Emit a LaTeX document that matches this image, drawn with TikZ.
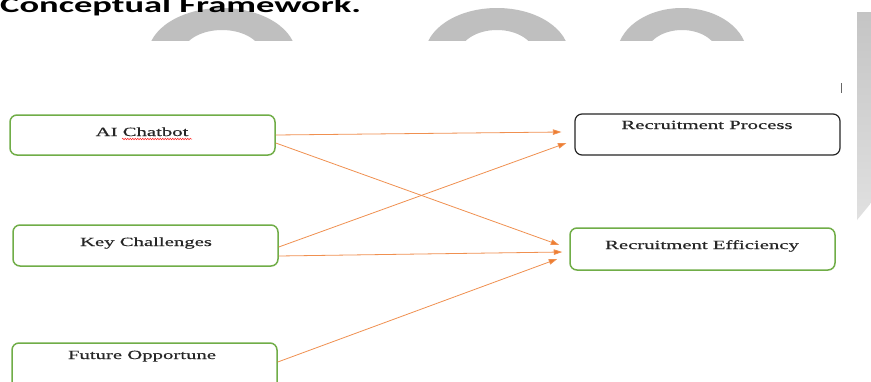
\documentclass[tikz,border=0pt]{standalone}
\usepackage{fontspec}
\setmainfont{Liberation Serif}
\newfontfamily\titlefont{Carlito}
\newfontfamily\boxfont{Liberation Serif}[FakeBold=0.35]
\usetikzlibrary{calc,arrows.meta,decorations.pathmorphing}

\definecolor{boxgreen}{HTML}{70AD47}
\definecolor{arrorange}{HTML}{ED7D31}
\definecolor{wmgrey}{HTML}{BFBFBF}
\definecolor{inkgrey}{HTML}{262626}

\tikzset{
  framebox/.style={draw=boxgreen, line width=1.5pt, rounded corners=7pt,
    fill=white, inner sep=0pt, minimum width=265pt},
  blackbox/.style={framebox, draw=black!85, line width=1.2pt},
  boxtext/.style={inner sep=0pt, anchor=base, text=inkgrey,
    font=\boxfont\fontsize{12.5}{14}\selectfont},
  link/.style={draw=arrorange!85, line width=0.8pt,
    -{Triangle[length=8.5pt,width=5.5pt,fill=arrorange]}},
  ring/.style={fill=wmgrey, even odd rule},
}
\newcommand{\wide}[1]{\scalebox{1.66}[1]{#1}}

\begin{document}
\begin{tikzpicture}[x=1pt,y=-1pt]
  \useasboundingbox (0,0) rectangle (871,381);
  \clip (0,0) rectangle (871,381);
  \fill[white] (0,0) rectangle (871,381);

  % faded watermark letters behind the heading
  \begin{scope}
    \clip (0,0) rectangle (871,40);
    \fill[ring] (222,55) ellipse [x radius=74pt, y radius=47pt]
                (222,55) ellipse [x radius=40pt, y radius=25pt];
    \fill[ring] (497,55) ellipse [x radius=72pt, y radius=47pt]
                (497,55) ellipse [x radius=38pt, y radius=25pt];
    \fill[ring] (682,55) ellipse [x radius=65pt, y radius=47pt]
                (682,55) ellipse [x radius=36pt, y radius=25pt];
  \end{scope}

  % page edge strip and cursor mark
  \shade[top color=black!23, bottom color=black!12]
    (857,12) -- (871,12) -- (871,203) -- (857,220) -- cycle;
  \draw[black!60, line width=0.8pt] (841,83) -- (841,93);

  % heading
  \node[anchor=base west, inner sep=0pt,
        font=\titlefont\bfseries\fontsize{22}{26}\selectfont] (title)
    at (0,12) {\wide{Conceptual Framework.}};

  % boxes
  \node[framebox, minimum height=40pt] (ai) at (142.5,135) {};
  \node[framebox, minimum height=41pt] (kc) at (145.5,245.5) {};
  \node[framebox, minimum height=52pt] (fo) at (144.5,369) {};
  \node[blackbox, minimum height=41pt] (rp) at (707.5,134.5) {};
  \node[framebox, minimum height=42pt] (re) at (702.5,249) {};

  % box labels
  \node[boxtext] (aiT) at (142,136) {\wide{AI Chatbot}};
  \node[boxtext] (kcT) at (146,246) {\wide{Key Challenges}};
  \node[boxtext] (foT) at (142,359) {\wide{Future Opportune}};
  \node[boxtext] (rpT) at (707,129) {\wide{Recruitment Process}};
  \node[boxtext] (reT) at (702,249) {\wide{Recruitment Efficiency}};

  % spelling underline beneath "Chatbot"
  \draw[red!85, line width=0.5pt, decorate,
        decoration={snake, amplitude=0.8pt, segment length=2.5pt}]
    ($(aiT.base)+(-20,3)$) -- ($(aiT.base)+(50,3)$);

  % connectors
  \draw[link] (ai.east) -- ($(rp.west)+(-13,-2.5)$);
  \draw[link] ($(ai.east)+(0,8)$) -- ($(re.west)+(-10,-4)$);
  \draw[link] ($(kc.east)+(0,1.5)$) -- ($(rp.west)+(-8,8.5)$);
  \draw[link] ($(kc.east)+(0,10.5)$) -- ($(re.west)+(-7,3)$);
  \draw[link] ($(fo.east)+(0,-7)$) -- ($(re.west)+(-12,10)$);
\end{tikzpicture}
\end{document}
